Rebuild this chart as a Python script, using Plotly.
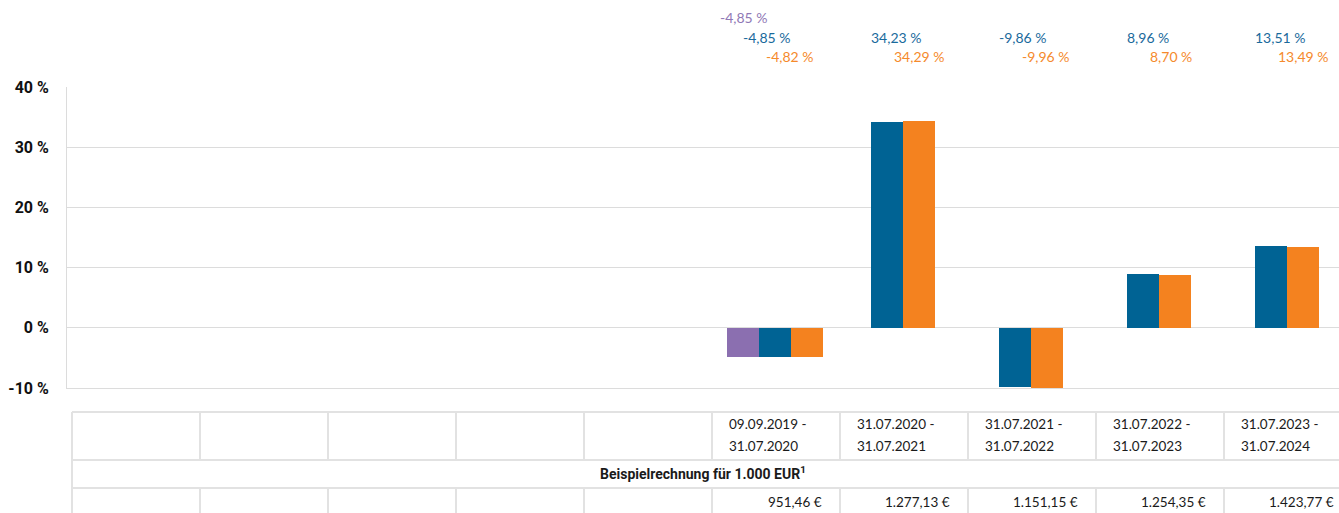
import plotly.graph_objects as go

# Zeiträume (10 Spalten, die ersten fünf ohne Daten)
perioden = ["", "", "", "", "",
            "09.09.2019 -<br>31.07.2020",
            "31.07.2020 -<br>31.07.2021",
            "31.07.2021 -<br>31.07.2022",
            "31.07.2022 -<br>31.07.2023",
            "31.07.2023 -<br>31.07.2024"]

# Wertentwicklung in % je Zeitraum
reihe_lila = [None, None, None, None, None, -4.85, None, None, None, None]
reihe_blau = [None, None, None, None, None, -4.85, 34.23, -9.86, 8.96, 13.51]
reihe_orange = [None, None, None, None, None, -4.82, 34.29, -9.96, 8.70, 13.49]

# Beispielrechnung für 1.000 EUR
beispiel_eur = [None, None, None, None, None, 951.46, 1277.13, 1151.15, 1254.35, 1423.77]

y_ticks = [-10, 0, 10, 20, 30, 40]
y_tick_labels = ["-10 %", "0 %", "10 %", "20 %", "30 %", "40 %"]

farben = {"lila": "#8b6fb0", "blau": "#006394", "orange": "#f4821f"}
label_farben = {"lila": "#9079b6", "blau": "#1a6a9c", "orange": "#f58a2c"}

W, H = 1339, 513
M_L, M_R, M_T, M_B = 67, 0, 87, 125
PLOT_H = H - M_T - M_B
SLOT_PX = 128.0
SLOT0_CENTER_PX = 134.5
X0 = -(SLOT0_CENTER_PX - M_L) / SLOT_PX
X1 = X0 + (W - M_L - M_R) / SLOT_PX
BAR_W = 0.25


def px_x(px):
    return (px - SLOT0_CENTER_PX) / SLOT_PX


def px_y(py):
    return (H - M_B - py) / PLOT_H


def de_zahl(v, nachkomma=2):
    s = f"{v:,.{nachkomma}f}"
    return s.replace(",", "X").replace(".", ",").replace("X", ".")


reihen = [("lila", reihe_lila), ("blau", reihe_blau), ("orange", reihe_orange)]

# Balken je Spalte zentriert gruppieren (nur vorhandene Werte belegen Platz)
positionen = {name: ([], []) for name, _ in reihen}
for i in range(len(perioden)):
    vorhanden = [(name, werte[i]) for name, werte in reihen if werte[i] is not None]
    n = len(vorhanden)
    for j, (name, wert) in enumerate(vorhanden):
        positionen[name][0].append(i + (j - (n - 1) / 2) * BAR_W)
        positionen[name][1].append(wert)

fig = go.Figure()
for name, _ in reihen:
    xs, ys = positionen[name]
    fig.add_trace(go.Bar(x=xs, y=ys, width=BAR_W, marker_color=farben[name],
                         marker_line_width=0, name=name, showlegend=False))

annotations = []
shapes = []

# Wertbeschriftungen oberhalb des Diagramms
label_offset_px = {"lila": -56.5, "blau": -33.5, "orange": -10.5}
label_y_px = {"lila": 17, "blau": 37, "orange": 56}
for name, werte in reihen:
    for i, v in enumerate(werte):
        if v is None:
            continue
        annotations.append(dict(
            x=i + label_offset_px[name] / SLOT_PX, xref="x", xanchor="left",
            y=px_y(label_y_px[name]), yref="paper", yanchor="middle",
            text=f"{de_zahl(v)} %", showarrow=False,
            font=dict(family="Lato", size=14, color=label_farben[name])))

# Tabelle unterhalb des Diagramms
grau = "#e2e2e2"
t_top, t_mid1, t_mid2, t_bot = 412, 460, 488, 530
links_px = 72
kanten = [links_px + SLOT_PX * k for k in range(len(perioden) + 1)]


def linie(x0, y0, x1, y1):
    shapes.append(dict(type="line", xref="x", yref="paper",
                       x0=px_x(x0), x1=px_x(x1), y0=px_y(y0), y1=px_y(y1),
                       line=dict(color=grau, width=2), layer="above"))


for yy in (t_top, t_mid1, t_mid2):
    linie(kanten[0], yy, kanten[-1], yy)
for k, kx in enumerate(kanten):
    linie(kx, t_top, kx, t_mid1)
    linie(kx, t_mid2, kx, t_bot)
linie(kanten[0], t_mid1, kanten[0], t_mid2)

zeilen_y_px = [424, 446]
for i, p in enumerate(perioden):
    if p:
        for zeile, zy in zip(p.split("<br>"), zeilen_y_px):
            annotations.append(dict(
                x=px_x(kanten[i] + 15), xref="x", xanchor="left",
                y=px_y(zy), yref="paper", yanchor="middle",
                text=zeile, showarrow=False,
                font=dict(family="Lato", size=13.5, color="#1a1a1a")))
    if beispiel_eur[i] is not None:
        annotations.append(dict(
            x=px_x(kanten[i + 1] - 16), xref="x", xanchor="right",
            y=px_y(502), yref="paper", yanchor="middle",
            text=f"{de_zahl(beispiel_eur[i])} €", showarrow=False,
            font=dict(family="Lato", size=13.5, color="#1a1a1a")))

annotations.append(dict(
    x=px_x(703), xref="x", xanchor="center",
    y=px_y(473), yref="paper", yanchor="middle",
    text="<b>Beispielrechnung für 1.000 EUR<sup>1</sup></b>", showarrow=False,
    font=dict(family="Roboto", size=14, color="#1a1a1a")))

fig.update_layout(
    width=W, height=H,
    margin=dict(l=M_L, r=M_R, t=M_T, b=M_B, pad=0),
    plot_bgcolor="white", paper_bgcolor="white",
    bargap=0, barmode="overlay",
    xaxis=dict(range=[X0, X1], showgrid=False, zeroline=False,
               showticklabels=False, ticks="", showline=True,
               linecolor="#dcdcdc", linewidth=1, fixedrange=True),
    yaxis=dict(range=[-10, 40], tickvals=y_ticks, ticktext=y_tick_labels,
               showgrid=True, gridcolor="#dcdcdc", gridwidth=1,
               zeroline=True, zerolinecolor="#dcdcdc", zerolinewidth=1,
               showline=True, linecolor="#dcdcdc", linewidth=1,
               ticks="", ticklabelstandoff=14,
               tickfont=dict(family="Roboto", size=16, color="#111111", weight=700)),
    annotations=annotations,
    shapes=shapes,
)

fig.write_html("out.html")
